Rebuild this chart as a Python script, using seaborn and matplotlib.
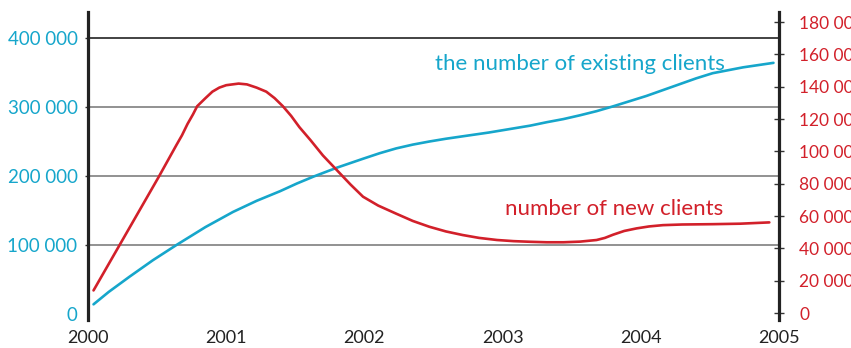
import matplotlib
matplotlib.use("Agg")
import matplotlib.pyplot as plt
import matplotlib.ticker as mticker
import seaborn as sns
import pandas as pd

# number of existing clients (left axis)
existing_years = [2000.04, 2000.15, 2000.30, 2000.47, 2000.64, 2000.85, 2001.05, 2001.22,
                  2001.39, 2001.51, 2001.63, 2001.80, 2001.99, 2002.11, 2002.23, 2002.35,
                  2002.47, 2002.59, 2002.71, 2002.90, 2003.08, 2003.20, 2003.32, 2003.44,
                  2003.56, 2003.68, 2003.80, 2003.92, 2004.04, 2004.16, 2004.28, 2004.40,
                  2004.52, 2004.74, 2004.96]
existing_clients = [14000, 32000, 54000, 78000, 100000, 126000, 148000, 164000,
                    178000, 189000, 199000, 212000, 225000, 233000, 240000, 245500,
                    250000, 254000, 257500, 263000, 269000, 273000, 278000, 282500,
                    288000, 294000, 301000, 308500, 316000, 324500, 333000, 341500,
                    349000, 357500, 364000]

# number of new clients (right axis)
new_years = [2000.04, 2000.51, 2000.64, 2000.68, 2000.72, 2000.76, 2000.79, 2000.85,
             2000.90, 2000.95, 2001.00, 2001.09, 2001.15, 2001.22, 2001.29, 2001.35,
             2001.41, 2001.47, 2001.53, 2001.61, 2001.70, 2001.80, 2001.90, 2001.99,
             2002.10, 2002.23, 2002.35, 2002.47, 2002.59, 2002.71, 2002.83, 2002.96,
             2003.08, 2003.20, 2003.32, 2003.44, 2003.56, 2003.68, 2003.74, 2003.80,
             2003.88, 2003.97, 2004.06, 2004.16, 2004.30, 2004.52, 2004.72, 2004.93]
new_clients = [14000, 84000, 104000, 110000, 117000, 123000, 128000, 133000,
               137000, 139500, 141000, 142000, 141500, 139500, 137000, 133000,
               128000, 122000, 115000, 107000, 97500, 88500, 79500, 72000,
               66500, 61500, 57000, 53400, 50500, 48300, 46500, 45200,
               44500, 44100, 43800, 43800, 44200, 45200, 46500, 48500,
               50800, 52400, 53600, 54400, 54800, 55000, 55300, 56100]

year_ticks = [2000, 2001, 2002, 2003, 2004, 2005]
left_ticks = [0, 100000, 200000, 300000, 400000]
right_ticks = [0, 20000, 40000, 60000, 80000, 100000, 120000, 140000, 160000, 180000]

label_existing = "the number of existing clients"
label_new = "number of new clients"

BLUE = "#16a6cb"
RED = "#d2202a"

sns.set_theme(style="white")
plt.rcParams['font.family'] = ['Lato', 'DejaVu Sans']

df_existing = pd.DataFrame({'year': existing_years, 'clients': existing_clients})
df_new = pd.DataFrame({'year': new_years, 'clients': new_clients})

fig = plt.figure(figsize=(8.51, 3.48), dpi=100)
ax = fig.add_axes([88 / 851, 28 / 348, (779 - 88) / 851, 308 / 348])
ax2 = ax.twinx()

sns.lineplot(data=df_existing, x='year', y='clients', ax=ax, color=BLUE, linewidth=1.9)
sns.lineplot(data=df_new, x='year', y='clients', ax=ax2, color=RED, linewidth=1.9)

ax.set_xlim(2000, 2005)
ax.set_ylim(-8700, 437700)
ax2.set_ylim(-4300, 186300)

fmt = mticker.FuncFormatter(lambda v, p: f"{v:,.0f}".replace(",", " "))

ax.set_yticks(left_ticks)
ax.yaxis.set_major_formatter(fmt)
ax.set_xticks(year_ticks)
ax.set_xticklabels([str(y) for y in year_ticks])
ax.tick_params(axis='x', length=0, pad=7, labelsize=13, labelcolor='#222222')
ax.tick_params(axis='y', direction='out', length=2.5, width=1, color='#333333',
               pad=5, labelsize=13.5, labelcolor=BLUE, left=True)
ax.set_xlabel("")
ax.set_ylabel("")

ax.yaxis.grid(True, color='#7f7f7f', linewidth=1.2)
gl = ax.get_ygridlines()
gl[0].set_visible(False)
gl[-1].set_color('#222222')
ax.yaxis.get_major_ticks()[0].tick1line.set_visible(False)

ax2.set_yticks(right_ticks)
ax2.yaxis.set_major_formatter(fmt)
ax2.tick_params(axis='y', direction='inout', length=7, width=1, color='#333333',
                pad=11, labelsize=12.5, labelcolor=RED, right=True)
ax2.set_ylabel("")
ax2.grid(False)

for a in (ax, ax2):
    for s in ('top', 'bottom'):
        a.spines[s].set_visible(False)
ax.spines['right'].set_visible(False)
ax2.spines['left'].set_visible(False)
ax.spines['left'].set_linewidth(2.3)
ax.spines['left'].set_color('#222222')
ax2.spines['right'].set_linewidth(2.3)
ax2.spines['right'].set_color('#222222')

ax.text(2004.61, 362000, label_existing, color=BLUE, fontsize=16,
        ha='right', va='center')
ax.text(2004.60, 152000, label_new, color=RED, fontsize=16,
        ha='right', va='center')

fig.savefig("out.png", dpi=100)
